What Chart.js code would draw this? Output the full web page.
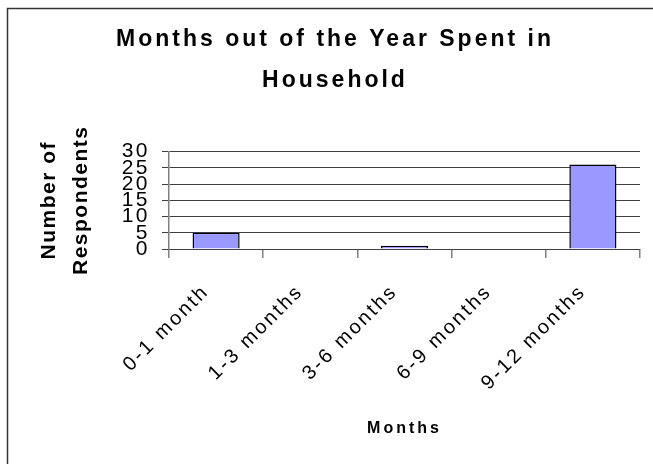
<!DOCTYPE html>
<html>
<head>
<meta charset="utf-8">
<title>Months out of the Year Spent in Household</title>
<script src="https://cdn.jsdelivr.net/npm/chart.js@4.4.1/dist/chart.umd.min.js"></script>
<style>
    body { margin: 0; background: #fff; }
    canvas { display: block; }
</style>
</head>
<body>
<canvas id="grafico-meses" width="653" height="464"></canvas>
<script>
var months = ["0-1 month", "1-3 months", "3-6 months", "6-9 months", "9-12 months"];
var respondents = [5, 0, 1, 0, 26];
var yTicks = [0, 5, 10, 15, 20, 25, 30];
var chartTitle = ["Months out of the Year Spent in", "Household"];
var yTitle = ["Number of", "Respondents"];
var xTitle = "Months";

var fontFamily = "'Liberation Sans', Arial, sans-serif";

// outer frame + the wide letter spacing of the old office-style text
var framePlugin = {
    id: 'frame',
    beforeDraw: function (chart) {
        var ctx = chart.ctx;
        ctx.save();
        ctx.strokeStyle = '#333';
        ctx.lineWidth = 1.5;
        ctx.strokeRect(7.5, 8.5, 700, 500);
        ctx.restore();
        ctx.letterSpacing = '3px';
    },
    beforeDatasetsDraw: function (chart) {
        // y title drawn by hand: the scale title would be squeezed to the axis height
        var ctx = chart.ctx, y = chart.scales.y;
        var midY = (y.top + y.bottom) / 2;
        ctx.save();
        ctx.fillStyle = '#000';
        ctx.font = 'bold 21px ' + fontFamily;
        ctx.textAlign = 'center';
        ctx.textBaseline = 'middle';
        ctx.letterSpacing = '1.5px';
        ctx.translate(49, midY);
        ctx.rotate(-Math.PI / 2);
        ctx.fillText(yTitle[0], 0, 0);
        ctx.fillText(yTitle[1], 0, 32);
        ctx.restore();
    },
    afterDatasetsDraw: function (chart) {
        chart.ctx.letterSpacing = '2.5px';
    },
    afterDraw: function (chart) {
        chart.ctx.letterSpacing = '0px';
    }
};

function grafMeses() {
    var dataMeses = {
        labels: months,
        datasets: [
            {
                label: "Respondents",
                backgroundColor: "#9999ff",
                borderColor: "#000",
                borderWidth: 1.5,
                barPercentage: 0.5,
                categoryPercentage: 1,
                data: respondents
            }
        ]
    };

    var ctxMeses = document.getElementById('grafico-meses').getContext("2d");

    var myMesesChart = new Chart(ctxMeses, {
        type: 'bar',
        data: dataMeses,
        plugins: [framePlugin],
        options: {
            responsive: false,
            animation: false,
            layout: {
                padding: { left: 30, right: 13, top: 20, bottom: 0 }
            },
            plugins: {
                legend: { display: false },
                tooltip: { enabled: false },
                title: {
                    display: true,
                    text: chartTitle,
                    color: '#000',
                    font: { family: fontFamily, size: 23, weight: 'bold', lineHeight: 1.75 },
                    padding: { top: 0, bottom: 51 }
                }
            },
            scales: {
                x: {
                    afterFit: function (scale) { scale.height = 215; },
                    grid: {
                        display: true,
                        drawOnChartArea: false,
                        offset: true,
                        tickLength: 9,
                        color: '#808080',
                        lineWidth: 1.5
                    },
                    border: { display: true, color: '#404040', width: 1 },
                    ticks: {
                        z: 1,
                        autoSkip: false,
                        minRotation: 45,
                        maxRotation: 45,
                        padding: 22,
                        labelOffset: -10,
                        color: '#000',
                        font: { family: fontFamily, size: 20 }
                    },
                    title: {
                        display: true,
                        text: xTitle,
                        color: '#000',
                        font: { family: fontFamily, size: 16, weight: 'bold' },
                        padding: { top: 0, bottom: 26 }
                    }
                },
                y: {
                    min: 0,
                    max: 30,
                    afterFit: function (scale) { scale.width = 139; },
                    afterBuildTicks: function (scale) {
                        scale.ticks = yTicks.map(function (v) { return { value: v }; });
                    },
                    grid: {
                        color: '#404040',
                        lineWidth: 1,
                        tickLength: 7
                    },
                    border: { display: true, color: '#808080', width: 1.5 },
                    ticks: {
                        z: 1,
                        autoSkip: false,
                        padding: 12,
                        color: '#000',
                        font: { family: fontFamily, size: 21 }
                    }
                }
            }
        }
    });
}

grafMeses();
</script>
</body>
</html>
